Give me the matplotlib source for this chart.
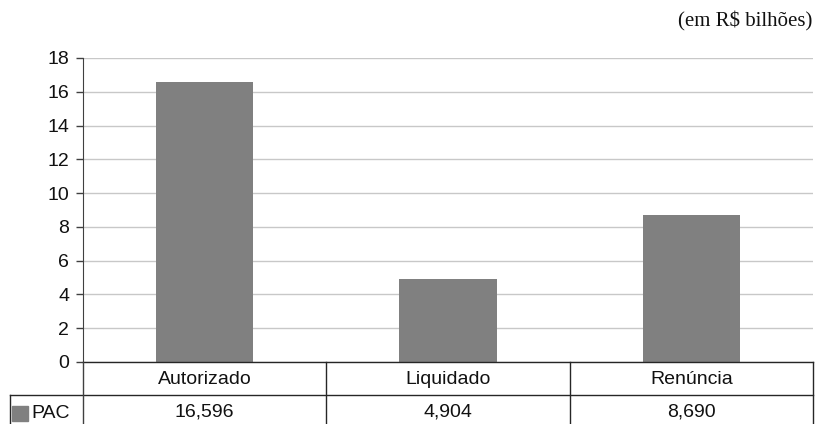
import matplotlib
matplotlib.use("Agg")
import matplotlib.pyplot as plt
from matplotlib.patches import Rectangle
from matplotlib.lines import Line2D

categories = ["Autorizado", "Liquidado", "Renúncia"]
pac_values = [16.596, 4.904, 8.690]
series_name = "PAC"
y_ticks = [0, 2, 4, 6, 8, 10, 12, 14, 16, 18]
unit_note = "(em R$ bilhões)"

W, H = 816, 424
fig = plt.figure(figsize=(W / 100, H / 100), dpi=100)
plt.rcParams['font.family'] = ['Liberation Sans', 'DejaVu Sans']
FS = 14
TXT = "#111111"

def fx(px):
    return px / W

def fy(py):
    return 1 - py / H

ax_l, ax_r, ax_t, ax_b = 83, 813, 58, 362
ax = fig.add_axes([fx(ax_l), fy(ax_b), fx(ax_r) - fx(ax_l), fy(ax_t) - fy(ax_b)])

bar_color = "#808080"
xs = list(range(len(categories)))
ax.bar(xs, pac_values, width=0.4, color=bar_color, zorder=3)
ax.set_xlim(-0.5, len(categories) - 0.5)
ax.set_ylim(0, 18)
ax.set_yticks(y_ticks)
ax.set_yticklabels([str(t) for t in y_ticks], fontsize=FS, color=TXT)
ax.tick_params(axis='y', length=5, width=1, color="#404040", pad=5)
ax.set_xticks([])
ax.yaxis.grid(True, color="#c8c8c8", linewidth=1, zorder=0)
for s in ["top", "right"]:
    ax.spines[s].set_visible(False)
ax.spines["left"].set_color("#404040")
ax.spines["bottom"].set_visible(False)

# Data table drawn in figure pixel space
line_c = "#262626"
row1_bottom = 395
col_edges = [ax_l + (ax_r - ax_l) * i / len(categories) for i in range(len(categories) + 1)]

def hline(x0, x1, y, c=line_c):
    fig.add_artist(Line2D([fx(x0), fx(x1)], [fy(y), fy(y)], color=c, linewidth=1))

def vline(x, y0, y1, c=line_c):
    fig.add_artist(Line2D([fx(x), fx(x)], [fy(y0), fy(y1)], color=c, linewidth=1))

hline(ax_l, ax_r, ax_b)
hline(10, ax_r, row1_bottom)
vline(ax_l, ax_b, H + 2, "#404040")
for x in col_edges[1:]:
    vline(x, ax_b, H + 2)
vline(10, row1_bottom, H + 2)

for i, cat in enumerate(categories):
    cx = (col_edges[i] + col_edges[i + 1]) / 2
    fig.text(fx(cx), fy(379), cat, ha="center", va="center",
             fontsize=FS, color=TXT)
    fig.text(fx(cx), fy(412), f"{pac_values[i]:.3f}".replace(".", ","),
             ha="center", va="center", fontsize=FS, color=TXT)

# legend key in table
fig.add_artist(Rectangle((fx(12), fy(421)), fx(16), fy(406) - fy(421), color=bar_color))
fig.text(fx(31), fy(414), series_name, ha="left", va="center", fontsize=FS, color=TXT)

fig.text(fx(812), fy(21), unit_note, ha="right", va="center", fontsize=15,
         family=["Liberation Serif", "DejaVu Serif"], color=TXT)

fig.savefig("out.png", dpi=100)
